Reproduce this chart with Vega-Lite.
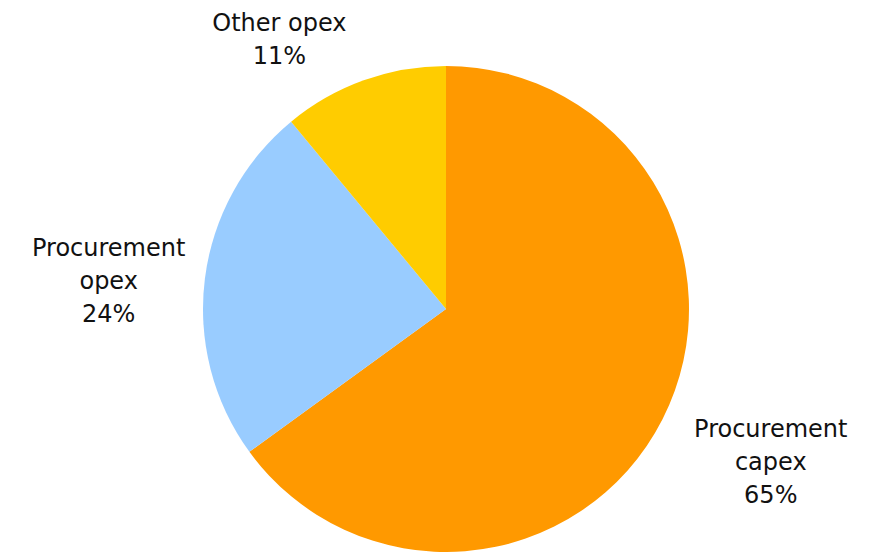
{
  "$schema": "https://vega.github.io/schema/vega-lite/v6.json",
  "width": 874,
  "height": 552,
  "padding": 0,
  "autosize": {"type": "none"},
  "background": "white",
  "config": {"view": {"stroke": null}},
  "data": {
    "values": [
      {"idx": 1, "category": "Procurement capex", "label": "Procurement|capex", "value": 65},
      {"idx": 2, "category": "Procurement opex", "label": "Procurement|opex", "value": 24},
      {"idx": 3, "category": "Other opex", "label": "Other opex", "value": 11}
    ]
  },
  "transform": [
    {"calculate": "datum.label + '|' + datum.value + '%'", "as": "text"}
  ],
  "encoding": {
    "theta": {"field": "value", "type": "quantitative", "stack": true},
    "order": {"field": "idx", "type": "quantitative"}
  },
  "layer": [
    {
      "mark": {"type": "arc", "outerRadius": 243, "x": 446, "y": 309},
      "encoding": {
        "color": {
          "field": "category",
          "type": "nominal",
          "scale": {
            "domain": ["Procurement capex", "Procurement opex", "Other opex"],
            "range": ["#FF9900", "#99CCFF", "#FFCC00"]
          },
          "legend": null
        }
      }
    },
    {
      "mark": {"type": "text", "radius": 360, "x": 446, "y": 309, "dx": 4, "dy": -42, "font": "DejaVu Sans", "fontSize": 24, "lineBreak": "|", "lineHeight": 33, "align": "center", "baseline": "middle", "color": "#111111"},
      "encoding": {
        "detail": {"field": "category", "type": "nominal"},
        "text": {"condition": {"test": "datum.category === 'Procurement capex'", "field": "text"}, "value": ""}
      }
    },
    {
      "mark": {"type": "text", "radius": 340, "x": 446, "y": 309, "dx": 0, "dy": -17, "font": "DejaVu Sans", "fontSize": 24, "lineBreak": "|", "lineHeight": 33, "align": "center", "baseline": "middle", "color": "#111111"},
      "encoding": {
        "detail": {"field": "category", "type": "nominal"},
        "text": {"condition": {"test": "datum.category === 'Procurement opex'", "field": "text"}, "value": ""}
      }
    },
    {
      "mark": {"type": "text", "radius": 300, "x": 446, "y": 309, "dx": -65, "dy": -3, "font": "DejaVu Sans", "fontSize": 24, "lineBreak": "|", "lineHeight": 33, "align": "center", "baseline": "middle", "color": "#111111"},
      "encoding": {
        "detail": {"field": "category", "type": "nominal"},
        "text": {"condition": {"test": "datum.category === 'Other opex'", "field": "text"}, "value": ""}
      }
    }
  ]
}
